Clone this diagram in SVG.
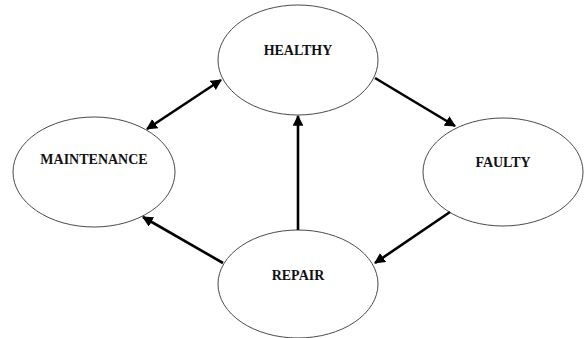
<svg xmlns="http://www.w3.org/2000/svg" width="588" height="338" viewBox="0 0 588 338">
  <style>
    .state ellipse { fill: #ffffff; stroke: #4a4a4a; stroke-width: 1; }
    .state text { font-family: "Liberation Serif", "Times New Roman", serif; font-weight: bold; font-size: 14px; fill: #111111; text-anchor: middle; }
    .edge { stroke: #000000; stroke-width: 2.6; fill: none; }
  </style>
  <defs>
    <marker id="head" viewBox="0 0 10 10" refX="9" refY="5" markerWidth="4.2" markerHeight="4.2" orient="auto-start-reverse" markerUnits="strokeWidth">
      <path d="M0,0 L10,5 L0,10 Z" fill="#000000"/>
    </marker>
  </defs>
  <rect width="588" height="338" fill="#ffffff"/>

  <g id="healthy" class="state">
    <ellipse cx="298" cy="60" rx="80" ry="55"/>
    <text x="298" y="55">HEALTHY</text>
  </g>
  <g id="maintenance" class="state">
    <ellipse cx="94" cy="172" rx="81" ry="55"/>
    <text x="94" y="164">MAINTENANCE</text>
  </g>
  <g id="faulty" class="state">
    <ellipse cx="503" cy="172" rx="80" ry="54"/>
    <text x="503" y="167">FAULTY</text>
  </g>
  <g id="repair" class="state">
    <ellipse cx="298" cy="284" rx="80" ry="54"/>
    <text x="298" y="280">REPAIR</text>
  </g>

  <g id="connectors">
    <line class="edge" x1="147" y1="129" x2="221" y2="80" marker-start="url(#head)" marker-end="url(#head)"/>
    <line class="edge" x1="375" y1="78" x2="455" y2="126" marker-end="url(#head)"/>
    <line class="edge" x1="450" y1="212" x2="375" y2="263" marker-end="url(#head)"/>
    <line class="edge" x1="298" y1="230" x2="298" y2="116" marker-end="url(#head)"/>
    <line class="edge" x1="223" y1="263" x2="143" y2="217" marker-end="url(#head)"/>
  </g>
</svg>
